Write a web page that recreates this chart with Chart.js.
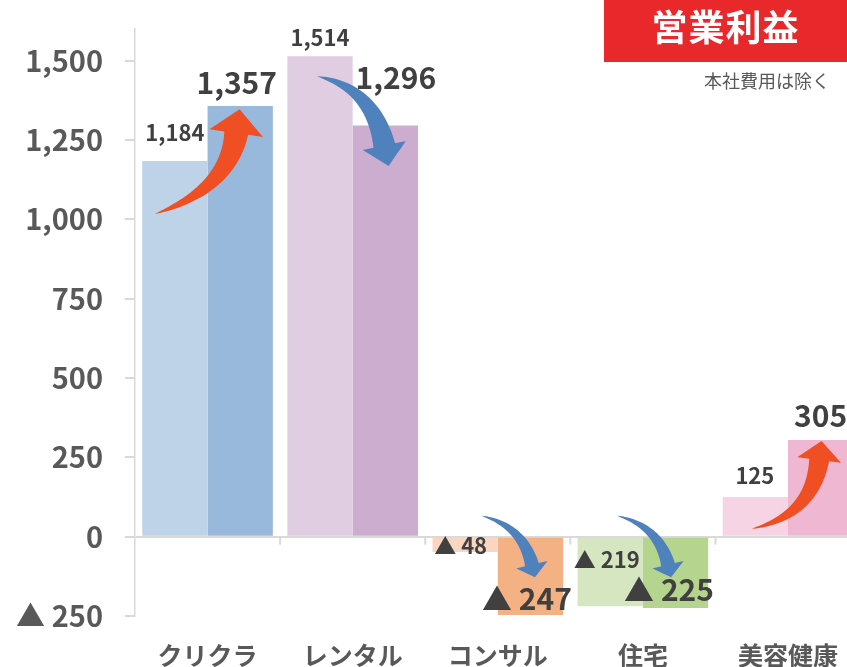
<!DOCTYPE html>
<html lang="ja">
<head>
<meta charset="utf-8">
<script src="https://cdn.jsdelivr.net/npm/chart.js@4"></script>
<style>
  html, body { margin: 0; padding: 0; background: #fff; overflow: hidden; }
  #wrap { position: relative; width: 862px; height: 667px; }
  #title {
    position: absolute; left: 604px; top: 0; width: 243px; height: 62px;
    background: #E8282A; color: #fff; text-align: center;
    font: bold 36px 'Noto Sans CJK JP', sans-serif; line-height: 50px; letter-spacing: 1px;
  }
  #note {
    position: absolute; left: 680px; top: 67px; width: 150px; text-align: right;
    font: 18px 'Noto Sans CJK JP', sans-serif; color: #595959;
  }
</style>
</head>
<body>
<div id="wrap">
  <canvas id="chart"></canvas>
  <div id="title">営業利益</div>
  <div id="note">本社費用は除く</div>
</div>
<script>
const categories = ['クリクラ', 'レンタル', 'コンサル', '住宅', '美容健康'];
const prevValues = [1184, 1514, -48, -219, 125];
const currValues = [1357, 1296, -247, -225, 305];
const yTicks = [-250, 0, 250, 500, 750, 1000, 1250, 1500];

const prevColors = ['#BED3E8', '#E0CDE2', '#FAD6C1', '#D5E6C0', '#F6D4E4'];
const currColors = ['#98B9DB', '#CCADCF', '#F4B183', '#B5D48E', '#F0B7D2'];

const FONT = "'Noto Sans CJK JP', sans-serif";

// label offsets from the bar end [dx, dy]
const prevLabelOffsets = [[0, -28], [0, -19], [-4.5, -6], [-3.5, -47], [-0.5, -21.5]];
const currLabelOffsets = [[-3.5, -24], [10.5, -48], [-3.5, -16], [-6.5, -18], [0, -24]];

function fmt(v) {
  return v < 0 ? '▲ ' + Math.abs(v).toLocaleString() : v.toLocaleString();
}

// arrows: anchors relative to prev bar (xL,yP), curr bar (xR,yC) and zero line (z)
const arrows = [
  { color: '#F04E23', shaft: 12, head: 27, len: 24,
    T: a => [a.xL - 20, a.yP + 53], C: a => [a.xR - 12, a.yC + 83], B: a => [a.xR - 4, a.yC + 27] },
  { color: '#4F81BD', shaft: 11, head: 22, len: 21,
    T: a => [a.xL - 3, a.yP + 20], C: a => [a.xR - 13, a.yC - 38], B: a => [a.xR - 1, a.yC + 20] },
  { color: '#4F81BD', shaft: 7, head: 16, len: 13,
    T: a => [a.xL + 16, a.z - 21], C: a => [a.xR - 8, a.z - 11], B: a => [a.xR + 1.5, a.z + 28] },
  { color: '#4F81BD', shaft: 7, head: 16, len: 13,
    T: a => [a.xL + 6.5, a.z - 21], C: a => [a.xR - 17, a.z - 11], B: a => [a.xR - 7.5, a.z + 28] },
  { color: '#F04E23', shaft: 10, head: 22, len: 19,
    T: a => [a.xL - 3.5, a.z - 8], C: a => [a.xR - 8.5, a.z - 21], B: a => [a.xR - 1.5, a.yC + 20] }
];

function drawArrow(ctx, spec, a) {
  const T = spec.T(a), C = spec.C(a), B = spec.B(a);
  const N = 30, left = [], right = [];
  for (let i = 0; i <= N; i++) {
    const t = i / N, u = 1 - t;
    const px = u * u * T[0] + 2 * u * t * C[0] + t * t * B[0];
    const py = u * u * T[1] + 2 * u * t * C[1] + t * t * B[1];
    const dx = 2 * u * (C[0] - T[0]) + 2 * t * (B[0] - C[0]);
    const dy = 2 * u * (C[1] - T[1]) + 2 * t * (B[1] - C[1]);
    const l = Math.hypot(dx, dy) || 1;
    const nx = -dy / l, ny = dx / l;
    const w = spec.shaft * Math.pow(t, 0.8);
    left.push([px + nx * w, py + ny * w]);
    right.push([px - nx * w, py - ny * w]);
  }
  const tx = B[0] - C[0], ty = B[1] - C[1];
  const tl = Math.hypot(tx, ty);
  const ux = tx / tl, uy = ty / tl, nx = -uy, ny = ux;
  ctx.save();
  ctx.fillStyle = spec.color;
  ctx.beginPath();
  ctx.moveTo(T[0], T[1]);
  left.forEach(p => ctx.lineTo(p[0], p[1]));
  ctx.lineTo(B[0] + nx * spec.head, B[1] + ny * spec.head);
  ctx.lineTo(B[0] + ux * spec.len, B[1] + uy * spec.len);
  ctx.lineTo(B[0] - nx * spec.head, B[1] - ny * spec.head);
  for (let i = right.length - 1; i >= 0; i--) ctx.lineTo(right[i][0], right[i][1]);
  ctx.closePath();
  ctx.fill();
  ctx.restore();
}

const decorPlugin = {
  id: 'decor',
  afterDatasetsDraw(chart) {
    const ctx = chart.ctx;
    const x = chart.scales.x, y = chart.scales.y;
    const z = y.getPixelForValue(0);
    const half = (x.getPixelForValue(1) - x.getPixelForValue(0)) / 2;

    // category separator ticks under the zero line
    ctx.save();
    ctx.strokeStyle = '#D9D9D9';
    ctx.lineWidth = 2;
    for (let i = 1; i <= categories.length; i++) {
      const px = x.getPixelForValue(i) - half;
      ctx.beginPath();
      ctx.moveTo(px, z);
      ctx.lineTo(px, z + 8);
      ctx.stroke();
    }
    ctx.restore();

    const m0 = chart.getDatasetMeta(0).data;
    const m1 = chart.getDatasetMeta(1).data;

    // arrows
    arrows.forEach((spec, i) => {
      drawArrow(ctx, spec, { xL: m0[i].x, yP: m0[i].y, xR: m1[i].x, yC: m1[i].y, z });
    });

    // value labels
    ctx.save();
    ctx.fillStyle = '#404040';
    ctx.textAlign = 'center';
    ctx.textBaseline = 'middle';
    ctx.font = 'bold 22px ' + FONT;
    m0.forEach((bar, i) => {
      const o = prevLabelOffsets[i];
      ctx.fillText(fmt(prevValues[i]), bar.x + o[0], bar.y + o[1]);
    });
    ctx.font = 'bold 30px ' + FONT;
    m1.forEach((bar, i) => {
      const o = currLabelOffsets[i];
      ctx.fillText(fmt(currValues[i]), bar.x + o[0], bar.y + o[1]);
    });
    ctx.restore();
  }
};

new Chart(document.getElementById('chart'), {
  type: 'bar',
  data: {
    labels: categories,
    datasets: [
      { label: '前期', data: prevValues, backgroundColor: prevColors, categoryPercentage: 0.9, barPercentage: 1.0 },
      { label: '当期', data: currValues, backgroundColor: currColors, categoryPercentage: 0.9, barPercentage: 1.0 }
    ]
  },
  options: {
    responsive: true,
    maintainAspectRatio: false,
    animation: false,
    layout: { padding: { top: 29, left: 0, right: 0, bottom: 0 } },
    plugins: {
      legend: { display: false },
      tooltip: { enabled: false }
    },
    scales: {
      x: {
        grid: { display: false, drawTicks: false },
        border: { display: false },
        ticks: { color: '#595959', font: { family: FONT, size: 25, weight: 'bold' }, padding: 24 },
        afterFit(scale) { scale.height = 51; }
      },
      y: {
        min: -250,
        max: 1600,
        afterBuildTicks(scale) { scale.ticks = yTicks.map(v => ({ value: v })); },
        afterFit(scale) {
          scale.width = 135;
          scale.paddingTop = 0;
          scale.paddingBottom = 0;
        },
        border: { display: true, color: '#D9D9D9', width: 1.5 },
        grid: {
          color: c => (c.tick && c.tick.value === 0 ? '#D9D9D9' : 'rgba(0,0,0,0)'),
          lineWidth: 2,
          tickColor: '#D9D9D9',
          tickLength: 10
        },
        ticks: {
          color: '#595959',
          padding: 22,
          font: { family: FONT, size: 29, weight: 'bold' },
          callback: v => fmt(v)
        }
      }
    }
  },
  plugins: [decorPlugin]
});
</script>
</body>
</html>
